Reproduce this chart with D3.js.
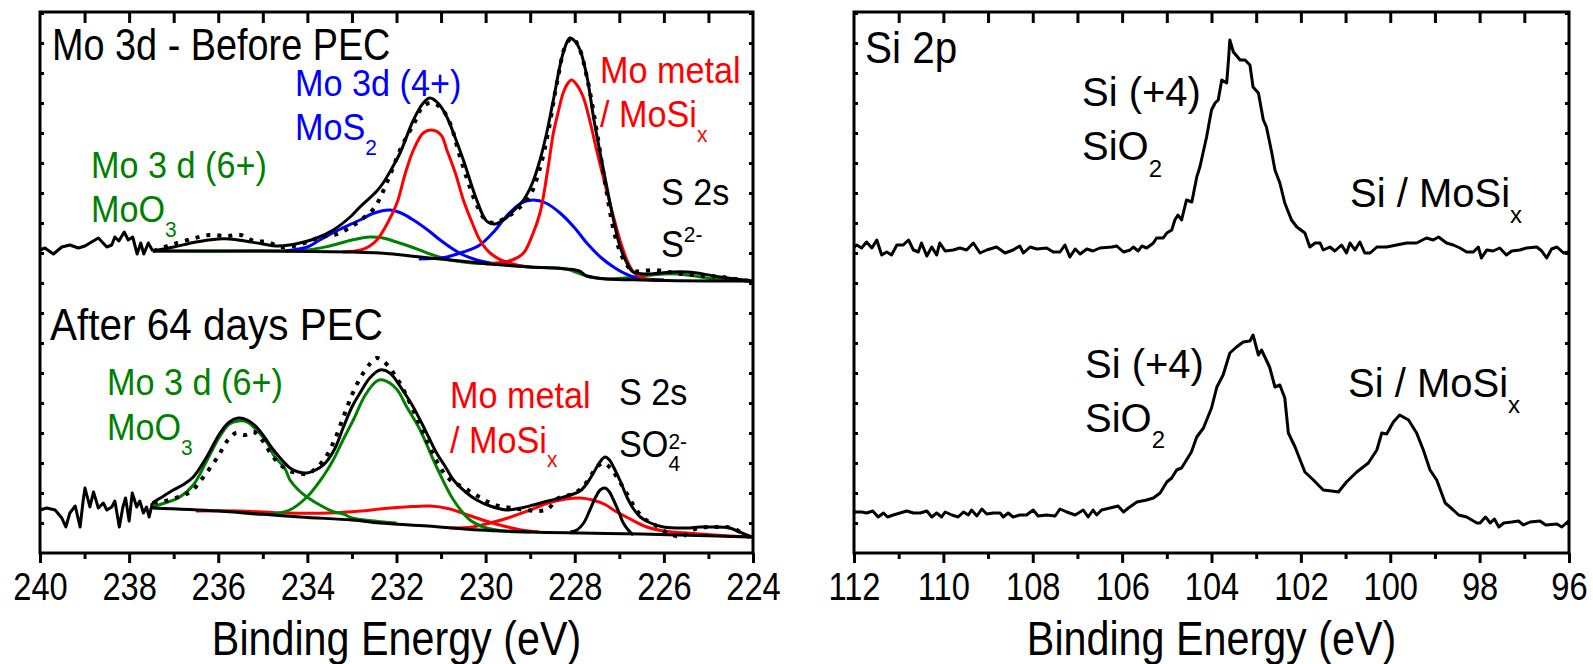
<!DOCTYPE html>
<html>
<head>
<meta charset="utf-8">
<script src="https://cdn.jsdelivr.net/npm/d3@7"></script>
<style>
  body { margin: 0; background: #fff; }
  svg { display: block; font-family: "Liberation Sans", Arial, sans-serif; }
</style>
</head>
<body>
<svg id="chart" width="1593" height="664"></svg>
<script>
// binding energy ranges (eV) and ticks
var moRange = [240, 224];
var siRange = [112, 96];
var moTicks = [240, 238, 236, 234, 232, 230, 228, 226, 224];
var siTicks = [112, 110, 108, 106, 104, 102, 100, 98, 96];
var axisTitle = 'Binding Energy (eV)';

// intensities in arbitrary units, [energy, counts]
// Mo 3d before PEC
var moBeforeNoise = [[240.00,303],[239.89,305],[239.70,299],[239.51,306],[239.33,308],[239.14,305],[238.99,307],[238.88,310],[238.69,315],[238.50,306],[238.39,308],[238.32,316],[238.23,312],[238.11,321],[238.02,313],[237.92,316],[237.82,299],[237.74,310],[237.67,299],[237.57,310],[237.47,302]];
var moBeforeData = [[237.45,302],[237.2,306],[237.0,309],[236.6,314],[236.2,318],[235.8,317],[235.5,318],[235.2,312],[234.9,311],[234.6,306],[234.3,307],[234.0,311],[233.7,316],[233.4,318],[233.1,324],[232.8,333],[232.5,345],[232.2,372],[231.9,405],[231.6,430],[231.4,447],[231.2,450],[231.0,445],[230.8,430],[230.6,400],[230.4,372],[230.2,348],[230.0,333],[229.8,330],[229.6,334],[229.3,343],[229.0,358],[228.8,382],[228.6,420],[228.4,470],[228.2,508],[228.05,515],[227.9,505],[227.7,470],[227.5,420],[227.3,365],[227.1,318],[226.9,293],[226.7,282],[226.5,282],[226.2,283],[225.9,281],[225.6,279],[225.3,278],[225.0,277],[224.7,276],[224.4,274],[224.05,272]];
var moBeforeFit = [[237.47,302],[237.0,306],[236.5,311],[236.0,314],[235.74,314],[235.4,312],[235.0,309],[234.69,307],[234.4,308],[234.17,310],[233.79,315],[233.42,323],[233.04,336],[232.82,346],[232.44,362],[232.3,370],[232.1,385],[231.92,400],[231.62,433],[231.4,450],[231.25,455],[231.05,449],[230.87,436],[230.68,415],[230.5,393],[230.2,353],[229.98,332],[229.8,329],[229.6,333],[229.38,342],[229.15,353],[228.95,370],[228.78,393],[228.63,420],[228.48,453],[228.26,500],[228.11,515],[227.98,511],[227.88,503],[227.72,475],[227.58,436],[227.43,400],[227.28,366],[227.13,333],[226.98,306],[226.83,290],[226.69,281],[226.38,279],[226.1,280],[225.79,281],[225.5,281],[225.26,280],[224.74,276],[224.4,274],[224.03,272]];
var moBeforeBackground = [[237.47,302],[235.0,302],[233.0,301],[232.37,300],[231.25,295],[230.13,290],[229.9,289],[229.0,286],[228.18,284],[227.9,282],[227.73,277],[227.5,275],[227.28,274],[226.5,273],[225.0,272],[224.03,272]];
var moBeforeMoO3 = [[237.47,302],[235.0,302],[234.0,303],[233.5,307],[233.0,313],[232.6,316],[232.3,315],[232.0,311],[231.6,305],[231.25,299],[230.8,293],[230.3,290],[229.8,289],[229.0,286],[228.2,284],[227.73,277],[227.28,274],[226.9,275],[226.5,277],[226.0,279],[225.7,279],[225.3,277],[224.9,274],[224.03,272]];
var moBeforeMoS2a = [[234.5,302],[234.0,306],[233.72,313],[233.3,323],[232.82,333],[232.5,340],[232.15,343],[231.9,340],[231.62,333],[231.3,323],[231.02,313],[230.7,303],[230.5,298],[230.2,293],[229.9,290],[229.5,288]];
var moBeforeMoS2b = [[231.5,294],[231.0,295],[230.87,296],[230.5,301],[230.13,308],[229.8,322],[229.53,337],[229.2,350],[228.93,353],[228.65,350],[228.33,340],[228.0,325],[227.73,310],[227.4,295],[227.13,286],[226.9,280],[226.69,276],[226.4,274],[226.0,273]];
var moBeforeMetalA = [[233.2,301],[232.8,303],[232.6,307],[232.44,313],[232.2,330],[231.99,350],[231.8,380],[231.62,403],[231.4,420],[231.21,423],[231.0,418],[230.87,403],[230.68,380],[230.5,353],[230.3,330],[230.13,313],[229.9,300],[229.6,292],[229.3,288],[229.0,286]];
var moBeforeMetalB = [[230.0,289],[229.6,291],[229.4,293],[229.15,300],[228.95,318],[228.78,340],[228.6,385],[228.48,420],[228.36,443],[228.26,460],[228.15,470],[228.07,473],[227.95,468],[227.81,456],[227.65,430],[227.51,403],[227.3,365],[227.13,336],[226.98,312],[226.83,293],[226.7,282],[226.53,276],[226.3,273],[226.0,273]];

// Mo 3d after 64 days PEC
var moAfterNoise = [[240.00,43],[239.85,45],[239.66,43],[239.51,35],[239.42,26],[239.33,40],[239.21,47],[239.10,26],[239.03,53],[238.99,65],[238.88,46],[238.80,61],[238.69,45],[238.58,50],[238.50,43],[238.39,46],[238.32,52],[238.22,26],[238.14,46],[238.08,55],[238.00,32],[237.93,60],[237.83,46],[237.76,52],[237.68,40],[237.61,46],[237.55,36],[237.48,50]];
var moAfterData = [[237.45,50],[237.2,52],[236.9,56],[236.6,62],[236.3,78],[236.0,97],[235.8,112],[235.6,120],[235.4,118],[235.2,121],[235.0,112],[234.8,98],[234.6,88],[234.4,82],[234.2,80],[234.0,79],[233.8,85],[233.6,95],[233.4,112],[233.2,135],[233.0,158],[232.8,176],[232.6,189],[232.45,195],[232.3,192],[232.1,182],[231.9,168],[231.7,150],[231.5,130],[231.3,110],[231.1,92],[230.9,78],[230.7,70],[230.5,66],[230.3,60],[230.1,55],[229.9,50],[229.7,47],[229.4,45],[229.1,43],[228.8,42],[228.6,44],[228.4,54],[228.2,57],[228.0,60],[227.8,67],[227.6,80],[227.45,88],[227.35,90],[227.2,85],[227.0,72],[226.8,57],[226.6,42],[226.4,33],[226.2,28],[226.0,22],[225.8,18],[225.6,16],[225.4,22],[225.2,25],[225.0,26],[224.8,26],[224.6,26],[224.4,24],[224.2,18],[224.05,16]];
var moAfterFit = [[237.48,50],[237.3,55],[237.01,63],[236.8,68],[236.56,76],[236.26,96],[235.96,120],[235.75,131],[235.55,135],[235.35,133],[235.14,126],[234.95,115],[234.76,103],[234.55,92],[234.39,85],[234.2,81],[234.01,80],[233.82,83],[233.64,88],[233.4,103],[233.19,126],[233.0,146],[232.82,160],[232.6,175],[232.37,183],[232.15,180],[231.85,162],[231.65,148],[231.47,133],[231.28,116],[231.1,100],[230.9,86],[230.72,73],[230.45,61],[230.2,53],[229.9,47],[229.53,43],[229.2,45],[228.93,48],[228.6,52],[228.33,55],[228.1,58],[227.88,62],[227.72,70],[227.58,80],[227.45,90],[227.32,96],[227.22,93],[227.13,86],[226.98,72],[226.83,56],[226.68,44],[226.53,36],[226.3,30],[226.01,26],[225.49,25],[225.2,26],[224.96,26],[224.52,25],[224.3,21],[224.03,16]];
var moAfterBackground = [[237.48,45],[236.0,42],[234.17,36],[233.0,33],[232.37,30],[231.3,27],[230.13,23],[229.0,21],[227.88,20],[226.5,19],[225.64,18],[224.8,17],[224.03,16]];
var moAfterMoO3a = [[237.48,46],[237.2,50],[236.9,55],[236.56,68],[236.26,92],[235.96,117],[235.75,129],[235.55,132],[235.35,131],[235.14,123],[234.9,110],[234.76,98],[234.5,84],[234.39,73],[234.2,63],[234.01,56],[233.64,46],[233.4,41],[233.19,39],[233.0,35],[232.5,32],[232.0,30]];
var moAfterMoO3b = [[235.6,41],[235.2,39],[234.8,39],[234.4,43],[234.01,56],[233.64,77],[233.42,93],[233.2,113],[232.97,133],[232.7,158],[232.44,172],[232.3,173],[232.0,164],[231.77,146],[231.47,123],[231.1,86],[230.72,53],[230.35,33],[229.98,25],[229.6,22],[229.0,21]];
var moAfterMetalA = [[236.5,42],[235.5,42],[234.5,40],[233.5,40],[232.8,42],[232.37,44],[231.8,46],[231.25,47],[230.8,44],[230.4,38],[230.0,32],[229.6,27],[229.2,23],[228.8,21]];
var moAfterMetalB = [[230.8,25],[230.3,26],[229.9,30],[229.5,35],[229.0,43],[228.6,50],[228.2,54],[227.88,55],[227.6,53],[227.3,48],[227.13,43],[226.8,35],[226.38,26],[226.0,22],[225.5,20],[224.88,18],[224.03,16]];
var moAfterSulfate = [[228.1,21],[227.95,23],[227.8,30],[227.66,43],[227.53,56],[227.43,63],[227.32,65],[227.22,61],[227.13,53],[227.02,42],[226.91,30],[226.8,23],[226.69,18]];

// Si 2p before and after PEC
var siBefore = [[112.0,306],[111.94,308],[111.83,305],[111.72,311],[111.60,305],[111.49,313],[111.38,298],[111.27,301],[111.16,298],[111.04,308],[110.90,308],[110.78,313],[110.67,303],[110.56,301],[110.49,310],[110.37,297],[110.26,306],[110.15,298],[110.08,310],[109.96,302],[109.78,303],[109.63,305],[109.48,303],[109.33,310],[109.18,300],[109.03,303],[108.81,306],[108.62,300],[108.44,303],[108.29,307],[108.21,300],[108.06,306],[107.91,304],[107.69,305],[107.54,301],[107.39,301],[107.28,308],[107.17,296],[107.05,304],[106.94,299],[106.79,304],[106.65,302],[106.50,305],[106.23,306],[106.12,307],[105.97,301],[105.82,303],[105.75,306],[105.64,302],[105.56,307],[105.45,305],[105.30,310],[105.23,315],[105.08,315],[105.00,320],[104.89,323],[104.82,333],[104.75,338],[104.67,333],[104.56,353],[104.44,351],[104.33,376],[104.26,386],[104.11,416],[104.00,443],[103.92,450],[103.85,453],[103.77,473],[103.66,470],[103.62,493],[103.59,513],[103.51,501],[103.36,493],[103.25,493],[103.14,488],[103.07,466],[102.95,460],[102.84,433],[102.77,426],[102.65,400],[102.58,383],[102.47,370],[102.36,350],[102.21,333],[102.09,326],[101.91,320],[101.80,306],[101.68,310],[101.57,310],[101.50,303],[101.35,306],[101.24,302],[101.09,308],[100.98,300],[100.90,310],[100.79,303],[100.68,311],[100.57,300],[100.45,300],[100.30,306],[100.08,306],[99.86,308],[99.63,310],[99.41,310],[99.19,315],[99.04,313],[98.92,316],[98.74,310],[98.59,308],[98.44,305],[98.29,301],[98.14,301],[98.03,306],[97.96,295],[97.84,303],[97.70,302],[97.55,305],[97.40,298],[97.28,302],[97.10,303],[96.95,305],[96.72,306],[96.61,302],[96.50,295],[96.39,304],[96.27,306],[96.12,300],[96.01,301]];
var siAfter = [[112.0,41],[111.94,41],[111.83,41],[111.72,40],[111.58,42],[111.46,36],[111.34,40],[111.25,36],[111.12,38],[110.97,40],[110.82,42],[110.67,40],[110.52,40],[110.37,42],[110.26,36],[110.15,40],[110.04,36],[109.96,41],[109.81,38],[109.67,36],[109.55,41],[109.44,38],[109.37,43],[109.25,37],[109.14,44],[109.03,39],[108.88,40],[108.73,40],[108.66,36],[108.55,40],[108.44,36],[108.29,38],[108.14,38],[107.99,43],[107.88,37],[107.69,38],[107.50,37],[107.39,44],[107.24,41],[107.05,38],[106.87,43],[106.76,36],[106.65,43],[106.57,38],[106.46,43],[106.27,45],[106.09,47],[105.97,41],[105.86,45],[105.67,51],[105.45,53],[105.30,55],[105.15,60],[105.00,71],[104.89,75],[104.78,83],[104.67,85],[104.56,93],[104.45,101],[104.33,116],[104.18,125],[104.00,145],[103.88,166],[103.74,178],[103.59,200],[103.44,206],[103.29,211],[103.14,212],[103.07,218],[102.95,198],[102.88,203],[102.70,186],[102.58,166],[102.47,168],[102.36,155],[102.28,120],[102.13,106],[101.91,81],[101.72,73],[101.50,63],[101.31,62],[101.16,61],[100.98,71],[100.75,81],[100.49,90],[100.30,103],[100.19,120],[100.08,119],[99.93,131],[99.79,138],[99.59,133],[99.41,120],[99.26,103],[99.11,83],[98.96,73],[98.77,50],[98.59,43],[98.47,38],[98.29,36],[98.06,30],[97.99,30],[97.87,36],[97.76,30],[97.67,34],[97.57,26],[97.46,30],[97.28,31],[97.13,32],[97.02,28],[96.87,31],[96.65,32],[96.52,28],[96.27,29],[96.16,26],[96.01,32]];

(function() {

  var RED = '#ff0000', BLUE = '#0000ff', GREEN = '#008000', BLACK = '#000';
  var plotTop = 12, plotBottom = 553;
  var svg = d3.select('#chart');

  var y = d3.scaleLinear().domain([0, 541]).range([plotBottom, plotTop]);

  var xMo = d3.scaleLinear().domain(moRange).range([40, 753]);
  var xSi = d3.scaleLinear().domain(siRange).range([854, 1569]);

  drawMoPanel();
  drawSiPanel();
  drawFrame(xMo, moTicks);
  drawFrame(xSi, siTicks);

  function drawMoPanel() {
    var smooth = d3.curveCatmullRom;
    plot(xMo, moBeforeMoO3, GREEN, smooth);
    plot(xMo, moBeforeMoS2a, BLUE, smooth);
    plot(xMo, moBeforeMoS2b, BLUE, smooth);
    plot(xMo, moBeforeMetalA, RED, smooth);
    plot(xMo, moBeforeMetalB, RED, smooth);
    plot(xMo, moBeforeBackground, BLACK, smooth);
    plot(xMo, moBeforeFit, BLACK, smooth);
    plot(xMo, moBeforeData, BLACK, smooth, '4,7');
    plot(xMo, moBeforeNoise, BLACK, d3.curveLinear);

    plot(xMo, moAfterMetalA, RED, smooth);
    plot(xMo, moAfterMetalB, RED, smooth);
    plot(xMo, moAfterMoO3a, GREEN, smooth);
    plot(xMo, moAfterMoO3b, GREEN, smooth);
    plot(xMo, moAfterBackground, BLACK, smooth);
    plot(xMo, moAfterSulfate, BLACK, smooth);
    plot(xMo, moAfterFit, BLACK, smooth);
    plot(xMo, moAfterData, BLACK, smooth, '4,7');
    plot(xMo, moAfterNoise, BLACK, d3.curveLinear);

    // before PEC labels
    label(52, 60, 'Mo 3d - Before PEC', 44, BLACK, 0.86);
    label(295, 96, 'Mo 3d (4+)', 36, BLUE, 0.95);
    var e = label(295, 140, 'MoS', 36, BLUE, 0.95);
    label(e, 155, '2', 22, BLUE, 0.95);
    label(91, 178, 'Mo 3 d (6+)', 36, GREEN, 0.95);
    e = label(91, 222, 'MoO', 36, GREEN, 0.95);
    label(e, 237, '3', 22, GREEN, 0.95);
    label(600, 83, 'Mo metal', 36, RED, 0.95);
    e = label(600, 127, '/ MoSi', 36, RED, 0.95);
    label(e, 142, 'x', 22, RED, 0.95);
    label(661, 205, 'S 2s', 36, BLACK, 0.95);
    e = label(661, 257, 'S', 36, BLACK, 0.95);
    label(e, 242, '2-', 22, BLACK, 0.95);

    // after PEC labels
    label(50, 340, 'After 64 days PEC', 44, BLACK, 0.92);
    label(107, 395, 'Mo 3 d (6+)', 36, GREEN, 0.95);
    e = label(107, 440, 'MoO', 36, GREEN, 0.95);
    label(e, 455, '3', 22, GREEN, 0.95);
    label(450, 408, 'Mo metal', 36, RED, 0.95);
    e = label(450, 453, '/ MoSi', 36, RED, 0.95);
    label(e, 467, 'x', 22, RED, 0.95);
    label(619, 405, 'S 2s', 36, BLACK, 0.95);
    e = label(619, 457, 'SO', 36, BLACK, 0.95);
    label(e, 449, '2-', 22, BLACK, 0.95);
    label(e, 471, '4', 22, BLACK, 0.95);
  }

  function drawSiPanel() {
    plot(xSi, siBefore, BLACK, d3.curveLinear);
    plot(xSi, siAfter, BLACK, d3.curveLinear);

    label(865, 63, 'Si 2p', 44, BLACK, 0.92);
    label(1082, 106, 'Si (+4)', 40, BLACK, 1);
    var e = label(1082, 160, 'SiO', 40, BLACK, 1);
    label(e, 177, '2', 24, BLACK, 1);
    e = label(1350, 207, 'Si / MoSi', 40, BLACK, 1);
    label(e, 223, 'x', 24, BLACK, 1);

    label(1085, 378, 'Si (+4)', 40, BLACK, 1);
    e = label(1085, 432, 'SiO', 40, BLACK, 1);
    label(e, 448, '2', 24, BLACK, 1);
    e = label(1348, 397, 'Si / MoSi', 40, BLACK, 1);
    label(e, 413, 'x', 24, BLACK, 1);
  }

  function plot(x, data, color, curve, dash) {
    var line = d3.line()
      .x(function(d) { return x(d[0]); })
      .y(function(d) { return y(d[1]); })
      .curve(curve);

    svg.append('path')
      .datum(data)
      .attr('d', line)
      .attr('fill', 'none')
      .attr('stroke', color)
      .attr('stroke-width', dash ? 4 : 3)
      .attr('stroke-linejoin', 'round')
      .attr('stroke-dasharray', dash || null);
  }

  function label(x, yb, text, size, color, sx) {
    var t = svg.append('text')
      .attr('transform', 'translate(' + x + ',' + yb + ') scale(' + sx + ',1)')
      .attr('font-size', size)
      .attr('fill', color)
      .text(text);
    return x + t.node().getComputedTextLength() * sx;
  }

  function drawFrame(x, ticks) {
    var d = x.domain();
    var minor = d3.range(d[0] - 1, d[1], -2);
    var inner = d3.range(d[0] - 1, d[1], -1);
    var x0 = x.range()[0], x1 = x.range()[1];
    var yTicks = d3.range(30, 541, 30);

    var bottomMajor = svg.append('g')
      .attr('transform', 'translate(0,' + plotBottom + ')')
      .call(d3.axisBottom(x).tickValues(ticks).tickSize(10).tickFormat(d3.format('d')));
    bottomMajor.selectAll('text')
      .attr('y', 47)
      .attr('dy', null)
      .attr('transform', 'scale(0.86,1)')
      .style('font-size', '38px')
      .style('font-family', '"Liberation Sans", Arial, sans-serif')
      .attr('fill', BLACK);

    var bottomMinor = svg.append('g')
      .attr('transform', 'translate(0,' + plotBottom + ')')
      .call(d3.axisBottom(x).tickValues(minor).tickSize(6).tickFormat(''));

    var topTicks = svg.append('g')
      .attr('transform', 'translate(0,' + plotTop + ')')
      .call(d3.axisBottom(x).tickValues(inner).tickSize(11).tickFormat(''));

    var leftTicks = svg.append('g')
      .attr('transform', 'translate(' + x0 + ',0)')
      .call(d3.axisRight(y).tickValues(yTicks).tickSize(4).tickFormat(''));

    var rightTicks = svg.append('g')
      .attr('transform', 'translate(' + x1 + ',0)')
      .call(d3.axisLeft(y).tickValues(yTicks).tickSize(4).tickFormat(''));

    [bottomMajor, bottomMinor, topTicks, leftTicks, rightTicks].forEach(function(g) {
      g.select('.domain').remove();
      g.selectAll('line').attr('stroke', BLACK).attr('stroke-width', 3);
    });

    svg.append('rect')
      .attr('x', x0)
      .attr('y', plotTop)
      .attr('width', x1 - x0)
      .attr('height', plotBottom - plotTop)
      .attr('fill', 'none')
      .attr('stroke', BLACK)
      .attr('stroke-width', 3);

    svg.append('text')
      .attr('transform', 'translate(' + ((x0 + x1) / 2) + ',655) scale(0.86,1)')
      .attr('text-anchor', 'middle')
      .attr('font-size', 48)
      .attr('fill', BLACK)
      .text(axisTitle);
  }
})();
</script>
</body>
</html>
